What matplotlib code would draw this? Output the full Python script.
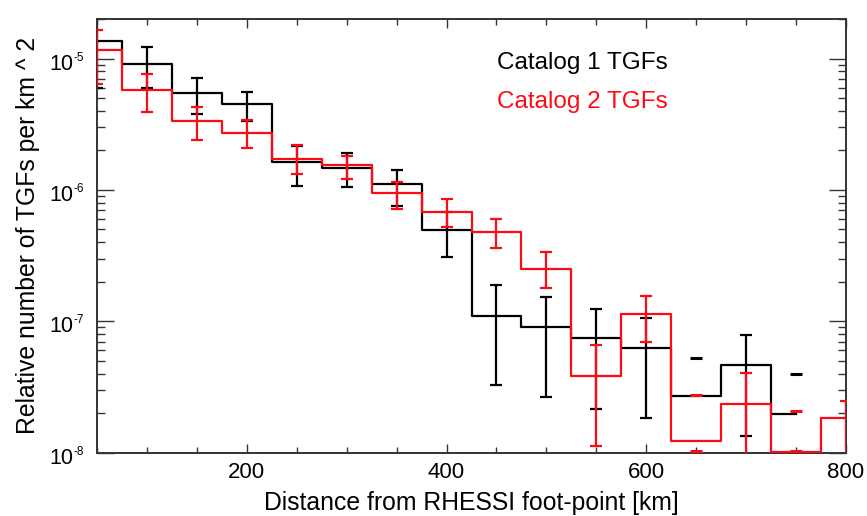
import numpy as np
import matplotlib
matplotlib.use("Agg")
import matplotlib.pyplot as plt
import matplotlib.transforms as mtransforms
from matplotlib.ticker import FixedLocator, LogLocator, NullFormatter

plt.rcParams['font.family'] = ['Liberation Sans', 'DejaVu Sans']

# ---- data ----
black_x = [50, 100, 150, 200, 250, 300, 350, 400, 450, 500, 550, 600, 650, 700, 750]
black_y = [1.35e-5, 9.05e-6, 5.47e-6, 4.49e-6, 1.63e-6, 1.48e-6, 1.10e-6, 4.93e-7,
           1.09e-7, 9.0e-8, 7.48e-8, 6.21e-8, 2.68e-8, 4.63e-8, 1.97e-8]
# error-bar bounds (None: only a cap is drawn)
black_lo = [5.95e-6, 5.94e-6, 3.79e-6, 3.33e-6, 1.07e-6, 1.05e-6, 7.55e-7, 3.08e-7,
            3.27e-8, 2.63e-8, 2.15e-8, 1.82e-8, None, 1.34e-8, None]
black_hi = [3.0e-5, 1.22e-5, 7.16e-6, 5.57e-6, 2.15e-6, 1.91e-6, 1.42e-6, 6.8e-7,
            1.88e-7, 1.52e-7, 1.25e-7, 1.05e-7, None, 7.8e-8, None]
black_caps_x = [650, 750]
black_caps_y = [5.24e-8, 3.95e-8]

red_x = [50, 100, 150, 200, 250, 300, 350, 400, 450, 500, 550, 600, 650, 700, 750, 800]
red_y = [1.16e-5, 5.74e-6, 3.32e-6, 2.73e-6, 1.73e-6, 1.56e-6, 9.48e-7, 6.80e-7,
         4.79e-7, 2.49e-7, 3.85e-8, 1.13e-7, 1.22e-8, 2.34e-8, 1.01e-8, 1.82e-8]
red_lo = [6.36e-6, 3.95e-6, 2.40e-6, 2.10e-6, 1.33e-6, 1.21e-6, 7.21e-7, 5.25e-7,
          3.62e-7, 1.78e-7, 1.13e-8, 6.93e-8, None, 5e-9, None, 5e-9]
red_hi = [1.66e-5, 7.60e-6, 4.24e-6, 3.39e-6, 2.18e-6, 1.80e-6, 1.15e-6, 8.45e-7,
          5.98e-7, 3.34e-7, 6.54e-8, 1.56e-7, None, 4.05e-8, None, 2.46e-8]
red_caps_x = [650, 650, 750, 750]
red_caps_y = [2.74e-8, 1.02e-8, 2.06e-8, 1.02e-8]

labels = ["Catalog 1 TGFs", "Catalog 2 TGFs"]
x_ticks = [200, 400, 600, 800]
x_tick_labels = ["200", "400", "600", "800"]
y_ticks = [1e-8, 1e-7, 1e-6, 1e-5]
y_tick_exps = ["-8", "-7", "-6", "-5"]

FS = 17.5
TFS = 15.5
RED = '#ff0a14'

fig = plt.figure(figsize=(8.67, 5.16), dpi=100)
ax = fig.add_axes([0.1119, 0.1229, 0.8639, 0.8403])


def draw(x, y, lo, hi, cx, cy, color, z):
    ax.step(x, y, where='mid', color=color, lw=1.6, zorder=z)
    xs, ys, el, eh = [], [], [], []
    for xi, yi, l, h in zip(x, y, lo, hi):
        if l is None:
            continue
        xs.append(xi); ys.append(yi); el.append(yi - l); eh.append(h - yi)
    ax.errorbar(xs, ys, yerr=[el, eh], fmt='none', ecolor=color, elinewidth=1.6,
                capsize=4, capthick=1.6, zorder=z + 0.5)
    ax.plot(cx, cy, linestyle='none', marker='_', markersize=8, mew=2.2,
            color=color, zorder=z + 0.5, clip_on=False)


draw(black_x, black_y, black_lo, black_hi, black_caps_x, black_caps_y, 'black', 2)
draw(red_x, red_y, red_lo, red_hi, red_caps_x, red_caps_y, RED, 3)

ax.set_yscale('log')
ax.set_xlim(50, 800)
ax.set_ylim(1e-8, 2e-5)

ax.xaxis.set_major_locator(FixedLocator(x_ticks))
ax.set_xticklabels(x_tick_labels)
ax.xaxis.set_minor_locator(FixedLocator(list(range(50, 801, 50))))
ax.yaxis.set_major_locator(FixedLocator(y_ticks))
ax.yaxis.set_major_formatter(NullFormatter())
ax.yaxis.set_minor_locator(LogLocator(base=10, subs=np.arange(2, 10)))
ax.yaxis.set_minor_formatter(NullFormatter())

ax.tick_params(axis='both', which='both', direction='in', top=True, right=True,
               color='#333333', width=1.0)
ax.tick_params(axis='x', which='major', length=6.5, pad=6.5, labelsize=16)
ax.tick_params(axis='x', which='minor', length=4)
ax.tick_params(axis='y', which='major', length=12)
ax.tick_params(axis='y', which='minor', length=6)

# y tick labels: "10" with a small raised exponent
blend = mtransforms.blended_transform_factory(ax.transAxes, ax.transData)
for yv, ex in zip(y_ticks, y_tick_exps):
    ax.annotate("10", xy=(0, yv), xycoords=blend, xytext=(-17.3, -7.9),
                textcoords='offset points', ha='right', va='baseline',
                fontsize=TFS, annotation_clip=False)
    ax.annotate(ex, xy=(0, yv), xycoords=blend, xytext=(-16.6, -1.6),
                textcoords='offset points', ha='left', va='baseline',
                fontsize=8.5, annotation_clip=False)

for s in ax.spines.values():
    s.set_color('#333333')
    s.set_linewidth(1.4)

ax.set_xlabel("Distance from RHESSI foot-point [km]", fontsize=17.8, labelpad=6)
ax.set_ylabel("Relative number of TGFs per km ^ 2", fontsize=17.8, va='center')
ax.yaxis.set_label_coords(-0.092, 0.5)

ax.text(0.534, 0.8985, labels[0], transform=ax.transAxes, color='black',
        fontsize=FS, va='center', ha='left')
ax.text(0.534, 0.8086, labels[1], transform=ax.transAxes, color=RED,
        fontsize=FS, va='center', ha='left')

fig.savefig("out.png", dpi=100)
